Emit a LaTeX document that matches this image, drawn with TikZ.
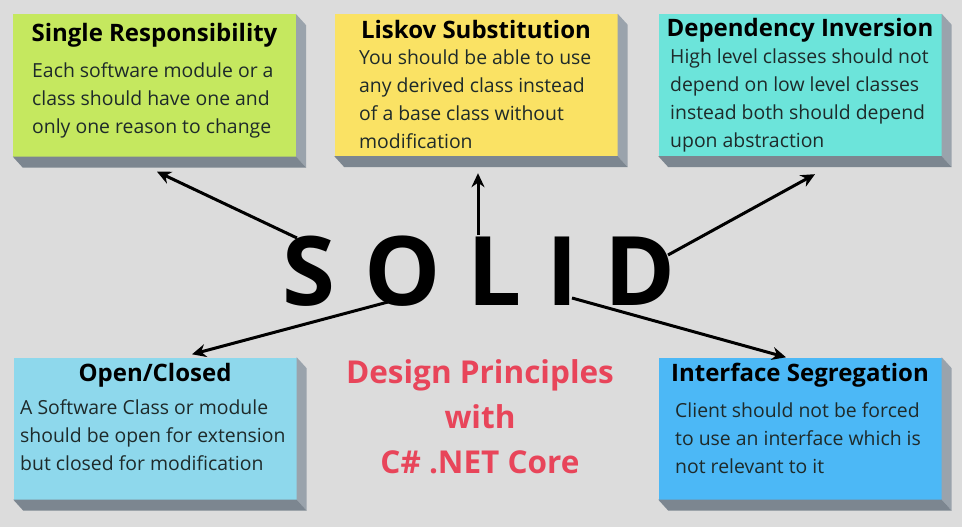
\documentclass[tikz,border=0pt]{standalone}
\usepackage{fontspec}
\setmainfont{Open Sans}
\usetikzlibrary{arrows.meta}
\definecolor{bgcol}{HTML}{DCDCDC}
\definecolor{srcol}{HTML}{C5E85F}
\definecolor{lscol}{HTML}{FAE264}
\definecolor{dicol}{HTML}{6CE4DA}
\definecolor{occol}{HTML}{8ED8EC}
\definecolor{iscol}{HTML}{4CB8F6}
\definecolor{siderc}{HTML}{9AA3AC}
\definecolor{sidebc}{HTML}{7C8690}
\definecolor{redcol}{HTML}{E8455A}
\definecolor{bodycol}{HTML}{1E2A2A}
\newcommand\cardside[1]{%
  \fill[siderc] (#1.north east) -- ([shift={(10,11)}]#1.north east) -- ([shift={(10,11)}]#1.south east) -- (#1.south east) -- cycle;
  \fill[sidebc] (#1.south west) -- ([shift={(10,11)}]#1.south west) -- ([shift={(10,11)}]#1.south east) -- (#1.south east) -- cycle;}
\begin{document}
\begin{tikzpicture}[x=1pt, y=-1pt, >={Stealth[length=14pt,width=13pt]},
    card/.style={minimum width=283pt, minimum height=142pt, inner sep=0pt},
    heading/.style={anchor=base, inner sep=0pt, font=\fontsize{24}{28}\bfseries\selectfont},
    body/.style={anchor=base west, inner sep=0pt, align=left, text=bodycol, font=\fontsize{19.4}{27.8}\selectfont},
    letter/.style={anchor=base, inner sep=0pt, font=\fontsize{96}{100}\bfseries\selectfont},
    arr/.style={->, line width=3pt}]
    \useasboundingbox[fill=bgcol] (0,0) rectangle (962,527);
    \node[card, fill=srcol] (sr) at (154.5,85.5) {};
    \node[card, fill=lscol] (ls) at (476,85) {};
    \node[card, fill=dicol] (di) at (800,85) {};
    \node[card, fill=occol] (oc) at (155,428.5) {};
    \node[card, fill=iscol] (is) at (800,428.5) {};
    \foreach \c in {sr,ls,di,oc,is} {\cardside{\c}}
    \node[heading] (srhead) at ([yshift=-27pt]sr.north) {Single Responsibility};
    \node[heading] (lshead) at ([yshift=-25pt]ls.north) {Liskov Substitution};
    \node[heading] (dihead) at ([yshift=-23pt]di.north) {Dependency Inversion};
    \node[heading] (ochead) at ([yshift=-24pt]oc.north) {Open/Closed};
    \node[heading] (ishead) at ([yshift=-24pt]is.north) {Interface Segregation};
    \node[body] (srbody) at (32,133) {Each software module or a\\class should have one and\\only one reason to change};
    \node[body] (lsbody) at (359,148) {You should be able to use\\any derived class instead\\of a base class without\\modification};
    \node[body] (dibody) at (670,147) {High level classes should not\\depend on low level classes\\instead both should depend\\upon abstraction};
    \node[body] (ocbody) at (20,470) {A Software Class or module\\should be open for extension\\but closed for modification};
    \node[body] (isbody) at (675,473) {Client should not be forced\\to use an interface which is\\not relevant to it};
    \node[letter] (S) at (308.5,305) {S};
    \node[letter] (O) at (402.5,305) {O};
    \node[letter] (L) at (495,305) {L};
    \node[letter] (I) at (562.5,305) {I};
    \node[letter] (D) at (640,305) {D};
    \node[anchor=base, align=center, text=redcol, font=\fontsize{31.5}{45}\bfseries\selectfont] (title) at (480,473) {Design Principles\\with\\C\# .NET Core};
    \draw[arr] ([shift={(-11.5,-67)}]S.base) -- ([shift={(2.5,15)}]sr.south);
    \draw[arr] ([shift={(-17,-70)}]L.base) -- ([shift={(2,17)}]ls.south);
    \draw[arr] ([shift={(28,-50)}]D.base) -- ([shift={(15,18)}]di.south);
    \draw[arr] ([shift={(-14.5,-3)}]O.base) -- ([shift={(37,-3)}]oc.north);
    \draw[arr] ([shift={(9.5,-7)}]I.base) -- ([shift={(-14,0)}]is.north);
\end{tikzpicture}
\end{document}
